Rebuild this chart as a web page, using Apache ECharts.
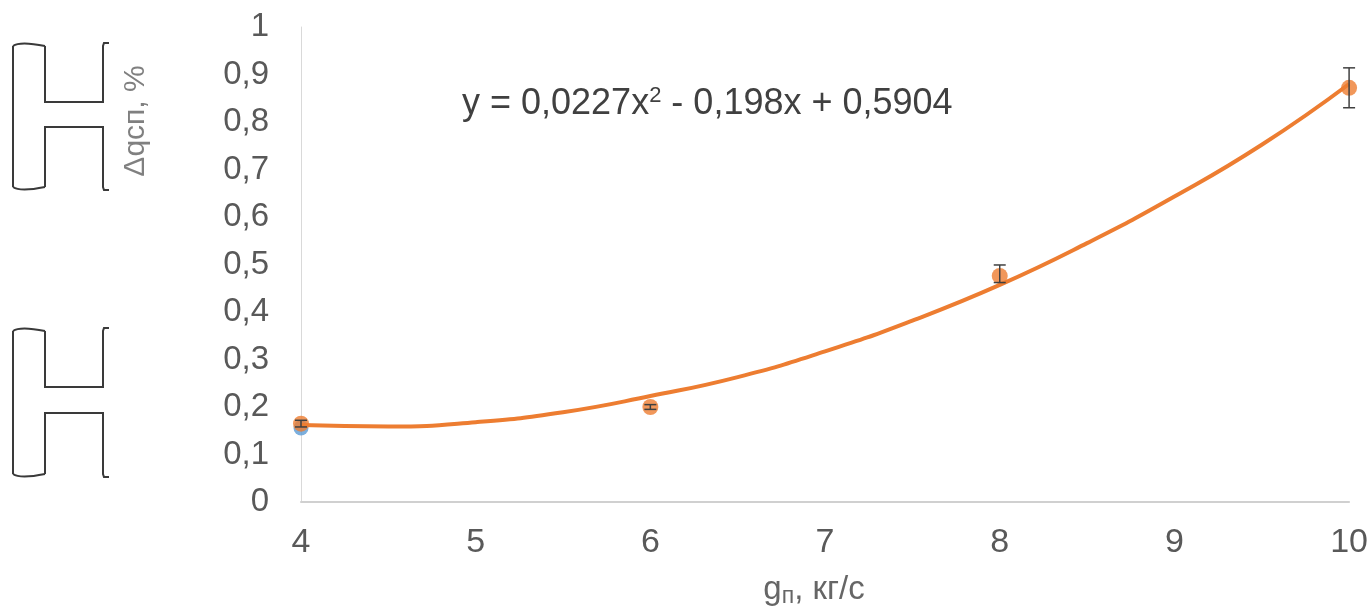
<!DOCTYPE html>
<html><head><meta charset="utf-8">
<script src="https://cdn.jsdelivr.net/npm/echarts@6/dist/echarts.min.js"></script>
<style>html,body{margin:0;padding:0;background:#fff}#c{width:1371px;height:609px}</style>
</head><body><div id="c"></div>
<script>
// Measured points (orange)
const xPts = [4, 6, 8, 10];
const yPts = [0.165, 0.200, 0.476, 0.872];
const errLow = [0.158, 0.195, 0.462, 0.830];
const errHigh = [0.172, 0.205, 0.499, 0.914];
// Second (blue) series, mostly hidden
const xBlue = [4];
const yBlue = [0.156];
// Trendline
const xTrend = [4, 4.5, 5, 5.5, 6, 6.5, 7, 7.5, 8, 8.5, 9, 9.5, 10];
const yTrend = [0.162, 0.159, 0.168, 0.189, 0.223, 0.263, 0.317, 0.382, 0.457, 0.545, 0.643, 0.752, 0.880];
const xTicks = [4, 5, 6, 7, 8, 9, 10];
const equationText = 'y = 0,0227x{s|2} - 0,198x + 0,5904';

const chart = echarts.init(document.getElementById('c'));
const fmtY = v => (v === 0 ? '0' : v === 1 ? '1' : v.toFixed(1).replace('.', ','));
const ink = '#3a3a3a';
const FONT = 'Liberation Sans, Arial';
function bracket(y0, y1, y2, y3) {
  return [
    {type:'polyline', shape:{points:[[13,y0+3],[13,y3-3]]}, style:{stroke:ink, lineWidth:2, fill:null}},
    {type:'bezierCurve', shape:{x1:13,y1:y0+3,x2:45,y2:y0+3,cpx1:20,cpy1:y0-2}, style:{stroke:ink, lineWidth:2, fill:null}},
    {type:'bezierCurve', shape:{x1:13,y1:y3-3,x2:45,y2:y3-3,cpx1:20,cpy1:y3+2}, style:{stroke:ink, lineWidth:2, fill:null}},
    {type:'polyline', shape:{points:[[45,y0+3],[45,y1],[103,y1],[103,y0+3],[104,y0],[109,y0]]}, style:{stroke:ink, lineWidth:2, fill:null}},
    {type:'polyline', shape:{points:[[45,y3-3],[45,y2],[103,y2],[103,y3-3],[104,y3],[109,y3]]}, style:{stroke:ink, lineWidth:2, fill:null}}
  ];
}

chart.setOption({
  animation: false,
  backgroundColor: '#fff',
  grid: {left: 301, right: 19, top: 27, bottom: 107},
  xAxis: {
    type: 'value', min: 4, max: 10, interval: 1,
    axisLine: {show: true, lineStyle: {color: '#d0d0d0', width: 2}},
    axisTick: {show: false},
    splitLine: {show: false},
    axisLabel: {color: '#595959', fontSize: 34, fontFamily: FONT, margin: 24,
      formatter: v => xTicks.includes(v) ? String(v) : ''}
  },
  yAxis: {
    type: 'value', min: 0, max: 1, interval: 0.1,
    axisLine: {show: true, lineStyle: {color: '#d9d9d9', width: 1}},
    axisTick: {show: false},
    splitLine: {show: false},
    axisLabel: {color: '#595959', fontSize: 33, fontFamily: FONT, margin: 32, formatter: fmtY}
  },
  graphic: [
    ...bracket(43, 102, 127, 190),
    ...bracket(328, 387, 413, 477),
    {type:'text', x:136, y:121, rotation: Math.PI/2, style:{text:'Δqсп, %', fill:'#808080', font:'30px Liberation Sans, Arial', align:'center', verticalAlign:'middle'}},
    {type:'text', x:462, y:104, style:{text: equationText, rich:{s:{fontSize:22, verticalAlign:'top', padding:[0,0,16,0], fill:'#404040', fontFamily:FONT}}, fill:'#404040', fontSize:36, fontFamily:FONT, verticalAlign:'middle'}},
    {type:'text', x:814, y:590, style:{text:'g{s|п}, кг/с', rich:{s:{fontSize:23, verticalAlign:'bottom', padding:[14,0,0,0], fill:'#666', fontFamily:FONT}}, fill:'#666', fontSize:33, fontFamily:FONT, align:'center', verticalAlign:'middle'}}
  ],
  series: [
    {type:'scatter', data: xBlue.map((x,i)=>[x,yBlue[i]]), symbolSize: 15, itemStyle:{color:'#5B9BD5'}, z:2},
    {type:'line', data: xTrend.map((x,i)=>[x,yTrend[i]]), smooth: true, showSymbol:false, lineStyle:{color:'#ED7D31', width:4}, z:3},
    {type:'scatter', data: xPts.map((x,i)=>[x,yPts[i]]), symbolSize: 16, itemStyle:{color:'#ED7D31'}, z:4},
    {type:'custom', z:5, data: xPts.map((x,i)=>[x,errLow[i],errHigh[i]]),
      renderItem: (params, api) => {
        const lo = api.coord([api.value(0), api.value(1)]);
        const hi = api.coord([api.value(0), api.value(2)]);
        const w = 6;
        const st = {stroke:'#404040', lineWidth:1.5};
        return {type:'group', children:[
          {type:'line', shape:{x1:lo[0],y1:lo[1],x2:hi[0],y2:hi[1]}, style:st},
          {type:'line', shape:{x1:lo[0]-w,y1:lo[1],x2:lo[0]+w,y2:lo[1]}, style:st},
          {type:'line', shape:{x1:hi[0]-w,y1:hi[1],x2:hi[0]+w,y2:hi[1]}, style:st}
        ]};
      }}
  ]
});
</script></body></html>
